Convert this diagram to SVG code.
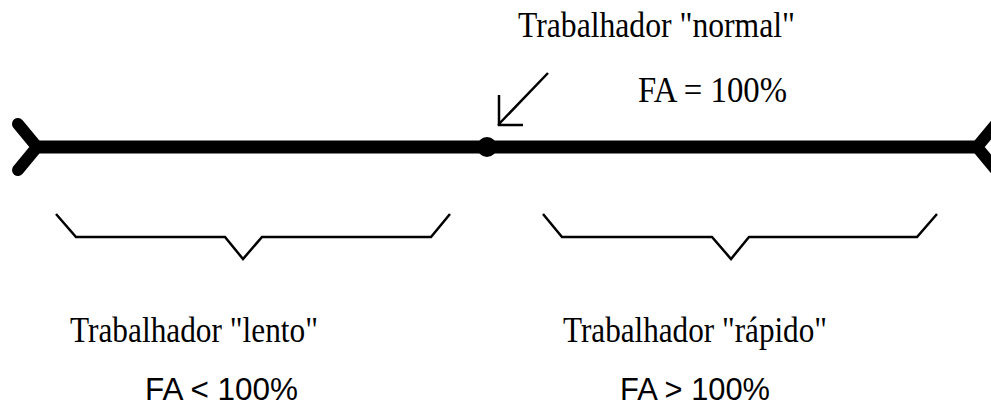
<svg xmlns="http://www.w3.org/2000/svg" width="991" height="411" viewBox="0 0 991 411">
<style>
.serif{font-family:"Liberation Serif","Times New Roman",serif;font-size:35px;fill:#000}
.sans{font-family:"Liberation Sans",Arial,sans-serif;font-size:31px;fill:#000}
.thin{fill:none;stroke:#000;stroke-width:2.5;stroke-linejoin:miter}
</style>
<rect width="991" height="411" fill="#fff"/>
<g id="connectors">
<path id="axis" d="M37 147 H975" fill="none" stroke="#000" stroke-width="13"/>
<path id="left-end" d="M18 124 L37 147 L18 170" fill="none" stroke="#000" stroke-width="12" stroke-linecap="round" stroke-linejoin="miter"/>
<path id="right-end" d="M996 124 L977 147 L996 170" fill="none" stroke="#000" stroke-width="12" stroke-linejoin="miter"/>
<path id="pointer" class="thin" d="M548 73 L498 125 M499 95 V125 H523" stroke-width="3"/>
</g>
<g id="normal-point">
<circle cx="487" cy="147" r="10" fill="#000"/>
</g>
<g id="normal-label">
<text class="serif" x="518" y="37" textLength="277" lengthAdjust="spacingAndGlyphs">Trabalhador "normal"</text>
<text class="serif" x="638" y="102" textLength="149" lengthAdjust="spacingAndGlyphs">FA = 100%</text>
</g>
<g id="slow">
<path class="thin" d="M56 214 L76 237 H225 L243 259 L262 237 H431 L450 214"/>
<text class="serif" x="70" y="342" textLength="248" lengthAdjust="spacingAndGlyphs">Trabalhador "lento"</text>
<text class="sans" x="145" y="400" textLength="153" lengthAdjust="spacingAndGlyphs">FA &lt; 100%</text>
</g>
<g id="fast">
<path class="thin" d="M543 214 L562 237 H712 L731 259 L749 237 H917 L937 214"/>
<text class="serif" x="563" y="342" textLength="264" lengthAdjust="spacingAndGlyphs">Trabalhador "rápido"</text>
<text class="sans" x="620" y="400" textLength="150" lengthAdjust="spacingAndGlyphs">FA &gt; 100%</text>
</g>
</svg>
